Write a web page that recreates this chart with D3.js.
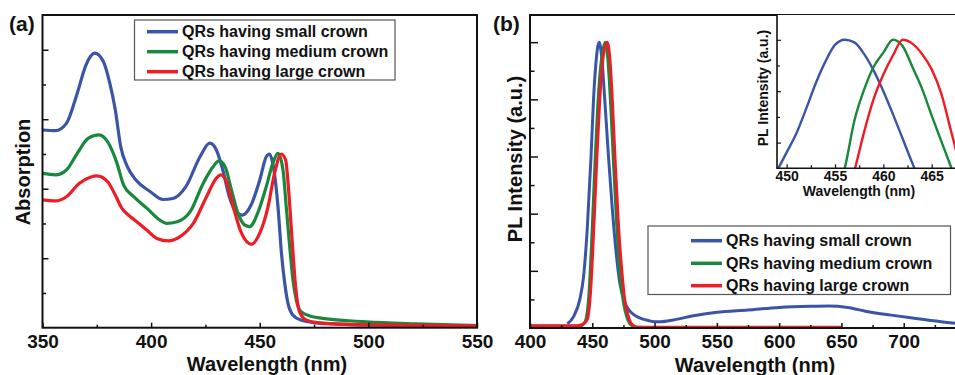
<!DOCTYPE html>
<html>
<head>
<meta charset="utf-8">
<script src="https://cdn.jsdelivr.net/npm/d3@7"></script>
<style>
  body { margin: 0; background: #fff; }
  svg { display: block; font-family: Arial, "Liberation Sans", sans-serif; font-weight: bold; }
</style>
</head>
<body>
<script>
// series names / colours
var seriesNames = ["QRs having small crown", "QRs having medium crown", "QRs having large crown"];
var seriesColors = ["#3b55a6", "#17883c", "#ee1c25"];

// (a) absorption
var absBlueWl = [350, 356, 361, 366, 370, 374, 378, 381, 383.5, 386, 389, 393, 399.5, 405.5, 410, 416, 422.5, 427, 430, 433, 436, 439, 442, 446, 450, 453, 454.5, 456, 458.4, 460, 461.5, 463, 465.3, 469, 476, 484, 499, 520, 550];
var absBlueVal = [5.69, 5.67, 5.88, 6.75, 7.56, 7.9, 7.66, 7.03, 6.27, 5.21, 4.64, 4.25, 3.92, 3.69, 3.72, 4.06, 4.92, 5.31, 5.12, 4.54, 3.77, 3.34, 3.24, 3.53, 4.25, 4.92, 5.0, 4.73, 3.48, 2.14, 1.28, 0.7, 0.36, 0.22, 0.14, 0.11, 0.08, 0.06, 0.05];
var absGreenWl = [350, 356, 361, 366, 371, 376, 380.4, 384.3, 387.3, 392, 398, 404, 407, 412, 418, 424, 428.6, 431.2, 434, 437, 440, 443, 445.4, 449, 453, 456, 458.4, 460.7, 462.2, 463.8, 465.3, 466.8, 469, 473, 479, 499, 522, 550];
var absGreenVal = [4.44, 4.4, 4.54, 5.02, 5.45, 5.55, 5.31, 4.73, 4.11, 3.77, 3.44, 3.1, 3.0, 3.05, 3.34, 4.16, 4.64, 4.8, 4.64, 3.96, 3.29, 2.96, 2.91, 3.29, 4.06, 4.73, 5.02, 4.54, 3.48, 2.33, 1.37, 0.8, 0.46, 0.34, 0.27, 0.17, 0.11, 0.06];
var absRedWl = [350, 356, 361, 367, 372, 375, 380, 383.5, 386.5, 389.6, 393.4, 398, 402.6, 408, 413.3, 419.4, 425.5, 430, 432, 434.7, 437.8, 441.6, 446.2, 450, 453.8, 456.8, 459.9, 461.9, 463.4, 465, 466.5, 468.3, 471.4, 477.5, 499, 550];
var absRedVal = [3.68, 3.65, 3.77, 4.16, 4.33, 4.37, 4.2, 3.82, 3.44, 3.24, 3.05, 2.81, 2.57, 2.5, 2.62, 3.0, 3.77, 4.3, 4.4, 4.2, 3.48, 2.72, 2.4, 2.72, 3.48, 4.44, 5.0, 4.83, 3.87, 2.43, 1.18, 0.46, 0.22, 0.14, 0.08, 0.05];

// (b) photoluminescence
var plBlueWl = [430, 435, 440, 443, 446, 449, 451, 453, 455.5, 457.5, 460, 463, 466, 469, 472, 476, 480, 485, 490, 495, 500, 505, 515, 530, 550, 575, 600, 625, 640, 655, 670, 690, 710, 730, 750];
var plBlueVal = [0.15, 0.4, 1.0, 1.8, 3.5, 6.0, 8.0, 9.3, 10, 9.5, 8.0, 6.0, 4.2, 2.7, 1.6, 0.9, 0.6, 0.42, 0.32, 0.26, 0.22, 0.22, 0.28, 0.42, 0.55, 0.63, 0.72, 0.76, 0.77, 0.72, 0.58, 0.45, 0.33, 0.22, 0.13];
var plGreenWl = [400, 440, 444, 447, 449.5, 452, 455, 458, 460.5, 462.5, 465, 467, 469.5, 472, 475, 478, 482, 486, 500, 650];
var plGreenVal = [0.06, 0.06, 0.2, 1.0, 3.0, 5.6, 8.2, 9.6, 10, 9.4, 7.6, 5.8, 3.7, 2.0, 0.9, 0.35, 0.08, 0.03, 0.02, 0.02];
var plRedWl = [400, 438, 443, 446, 448.5, 451, 453.5, 456, 458.5, 462, 464.5, 466.5, 468.5, 471, 473.5, 476, 479, 482, 486, 500, 650];
var plRedVal = [0.08, 0.08, 0.15, 0.3, 1.2, 3.3, 5.8, 8.0, 9.4, 10, 9.2, 7.6, 5.7, 3.6, 2.1, 1.0, 0.4, 0.12, 0.03, 0.03, 0.03];

// (b) inset, zoom on the PL peaks
var inBlueWl = [449, 450, 451, 452, 453, 454, 455, 456, 457, 458, 459, 460, 461, 462, 463, 464];
var inBlueVal = [-0.1, 0.62, 1.35, 2.3, 3.3, 4.15, 4.8, 5.0, 4.9, 4.45, 3.8, 3.0, 2.1, 1.15, 0.2, -0.7];
var inGreenWl = [455, 456, 457, 458, 459, 460, 461, 462, 463, 464, 465, 466, 467, 468];
var inGreenVal = [-1.0, 0.0, 1.85, 3.05, 3.95, 4.5, 5.0, 4.75, 3.95, 3.1, 2.05, 1.05, 0.05, -0.9];
var inRedWl = [456, 457, 458, 459, 460, 461, 462, 463, 464, 465, 466, 467, 468];
var inRedVal = [-1.3, -0.1, 1.4, 2.7, 3.65, 4.4, 5.0, 4.85, 4.45, 3.85, 2.9, 1.45, 0.0];

function pairs(wl, val) {
  return wl.map((w, i) => [w, val[i]]);
}

var svg = d3.select("body").append("svg").attr("width", 955).attr("height", 375);
svg.append("rect").attr("width", 955).attr("height", 375).attr("fill", "#fff");

// draws inward ticks (major with labels + minor without)
function drawAxes(g, x, y, o) {
  var bottom = y.range()[0];
  var left = x.range()[0];

  var xMajor = d3.axisBottom(x).tickValues(o.xMajor).tickSizeInner(-o.xMajorLen).tickSizeOuter(0).tickPadding(o.xPad);
  var xMinor = d3.axisBottom(x).tickValues(o.xMinor).tickSizeInner(-o.xMinorLen).tickSizeOuter(0).tickFormat("");
  var yMajor = d3.axisLeft(y).tickValues(o.yMajor).tickSizeInner(-o.yMajorLen).tickSizeOuter(0).tickFormat("");
  var yMinor = d3.axisLeft(y).tickValues(o.yMinor).tickSizeInner(-o.yMinorLen).tickSizeOuter(0).tickFormat("");

  [xMajor, xMinor].forEach((a) => {
    g.append("g").attr("transform", `translate(0,${bottom})`).call(a)
      .call((s) => s.select(".domain").remove())
      .call((s) => s.selectAll("line").attr("stroke", "#111").attr("stroke-width", o.tickW))
      .call((s) => s.selectAll("text").attr("font-size", o.tickFont).attr("font-weight", "bold").attr("fill", "#111").attr("font-family", null));
  });
  [yMajor, yMinor].forEach((a) => {
    g.append("g").attr("transform", `translate(${left},0)`).call(a)
      .call((s) => s.select(".domain").remove())
      .call((s) => s.selectAll("line").attr("stroke", "#111").attr("stroke-width", o.tickW));
  });
}

function drawLines(g, x, y, data, width, clipId) {
  var line = d3.line().x((d) => x(d[0])).y((d) => y(d[1])).curve(d3.curveMonotoneX);
  var lg = g.append("g");
  if (clipId) lg.attr("clip-path", `url(#${clipId})`);
  lg.selectAll("path")
    .data(data)
    .join("path")
    .attr("fill", "none")
    .attr("stroke", (d, i) => seriesColors[i])
    .attr("stroke-width", width)
    .attr("stroke-linejoin", "round")
    .attr("d", line);
}

function drawLegend(g, x0, y0, w, h, lineX1, lineX2, textX, rowY, fontSize) {
  g.append("rect")
    .attr("x", x0).attr("y", y0).attr("width", w).attr("height", h)
    .attr("fill", "#fff").attr("stroke", "#555").attr("stroke-width", 1.2);
  var row = g.selectAll(".leg").data(seriesNames).join("g").attr("class", "leg");
  row.append("line")
    .attr("x1", lineX1).attr("x2", lineX2)
    .attr("y1", (d, i) => rowY[i]).attr("y2", (d, i) => rowY[i])
    .attr("stroke", (d, i) => seriesColors[i]).attr("stroke-width", 3.5);
  row.append("text")
    .attr("x", textX).attr("y", (d, i) => rowY[i]).attr("dy", "0.36em")
    .attr("font-size", fontSize).attr("fill", "#111")
    .text((d) => d);
}

// ---------- panel (a) ----------
var ga = svg.append("g");
var xa = d3.scaleLinear().domain([350, 550]).range([42.5, 477]);
var ya = d3.scaleLinear().domain([0, 9]).range([327.7, 15]);

drawLines(ga, xa, ya, [pairs(absBlueWl, absBlueVal), pairs(absGreenWl, absGreenVal), pairs(absRedWl, absRedVal)], 3.2, null);

drawAxes(ga, xa, ya, {
  xMajor: [350, 400, 450, 500, 550], xMinor: [375, 425, 475, 525],
  yMajor: [2, 4, 6, 8], yMinor: [1, 3, 5, 7],
  xMajorLen: 5, xMinorLen: 3, yMajorLen: 6, yMinorLen: 3.5,
  xPad: 7, tickFont: 19, tickW: 1.5
});
ga.append("rect").attr("x", 42.5).attr("y", 15).attr("width", 477 - 42.5).attr("height", 327.7 - 15)
  .attr("fill", "none").attr("stroke", "#111").attr("stroke-width", 2);

drawLegend(ga, 134.5, 20, 260.5, 60, 147, 178, 182, [31.7, 51.7, 71.7], 16);

ga.append("text").attr("x", 267).attr("y", 371).attr("text-anchor", "middle").attr("font-size", 20).attr("fill", "#111").text("Wavelength (nm)");
ga.append("text").attr("transform", "translate(30,172) rotate(-90)").attr("text-anchor", "middle").attr("font-size", 20).attr("fill", "#111").text("Absorption");
ga.append("text").attr("x", 9).attr("y", 31).attr("font-size", 21).attr("fill", "#111").text("(a)");

// ---------- panel (b) ----------
var gb = svg.append("g");
var xb = d3.scaleLinear().domain([400, 750]).range([530, 966]);
var yb = d3.scaleLinear().domain([0, 10.95]).range([328, 15]);

drawLines(gb, xb, yb, [pairs(plBlueWl, plBlueVal), pairs(plGreenWl, plGreenVal), pairs(plRedWl, plRedVal)], 3, null);

drawAxes(gb, xb, yb, {
  xMajor: [400, 450, 500, 550, 600, 650, 700], xMinor: [425, 475, 525, 575, 625, 675, 725],
  yMajor: [2, 4, 6, 8, 10], yMinor: [1, 3, 5, 7, 9],
  xMajorLen: 5, xMinorLen: 3, yMajorLen: 8, yMinorLen: 4.5,
  xPad: 7, tickFont: 19, tickW: 1.5
});
gb.append("rect").attr("x", 530).attr("y", 15).attr("width", 966 - 530).attr("height", 328 - 15)
  .attr("fill", "none").attr("stroke", "#111").attr("stroke-width", 2);

drawLegend(gb, 648, 226, 302.5, 68.5, 691, 722, 726, [240.7, 263.3, 285.7], 16);

gb.append("text").attr("x", 755).attr("y", 372).attr("text-anchor", "middle").attr("font-size", 20).attr("fill", "#111").text("Wavelength (nm)");
gb.append("text").attr("transform", "translate(522,159) rotate(-90)").attr("text-anchor", "middle").attr("font-size", 20).attr("fill", "#111").text("PL Intensity (a.u.)");
gb.append("text").attr("x", 493).attr("y", 31).attr("font-size", 21).attr("fill", "#111").text("(b)");

// ---------- inset ----------
var gi = svg.append("g");
var xi = d3.scaleLinear().domain([449, 468]).range([777, 960.7]);
var yi = d3.scaleLinear().domain([0, 6]).range([168.3, 14.1]);

svg.append("defs").append("clipPath").attr("id", "insetClip")
  .append("rect").attr("x", 777).attr("y", 15).attr("width", 960.7 - 777).attr("height", 168.3 - 15);

gi.append("rect").attr("x", 777).attr("y", 15).attr("width", 960.7 - 777).attr("height", 168.3 - 15).attr("fill", "#fff");
drawLines(gi, xi, yi, [pairs(inBlueWl, inBlueVal), pairs(inGreenWl, inGreenVal), pairs(inRedWl, inRedVal)], 2.4, "insetClip");

drawAxes(gi, xi, yi, {
  xMajor: [450, 455, 460, 465], xMinor: [452.5, 457.5, 462.5, 467.5],
  yMajor: [1, 3, 5], yMinor: [2, 4],
  xMajorLen: 4, xMinorLen: 3, yMajorLen: 4, yMinorLen: 3,
  xPad: 3, tickFont: 14, tickW: 1.2
});
gi.append("path").attr("d", `M777,15V168.3H961`).attr("fill", "none").attr("stroke", "#111").attr("stroke-width", 1.6);

gi.append("text").attr("x", 859).attr("y", 196).attr("text-anchor", "middle").attr("font-size", 14).attr("fill", "#111").text("Wavelength (nm)");
gi.append("text").attr("transform", "translate(768,88) rotate(-90)").attr("text-anchor", "middle").attr("font-size", 14).attr("fill", "#111").text("PL Intensity (a.u.)");
</script>
</body>
</html>
